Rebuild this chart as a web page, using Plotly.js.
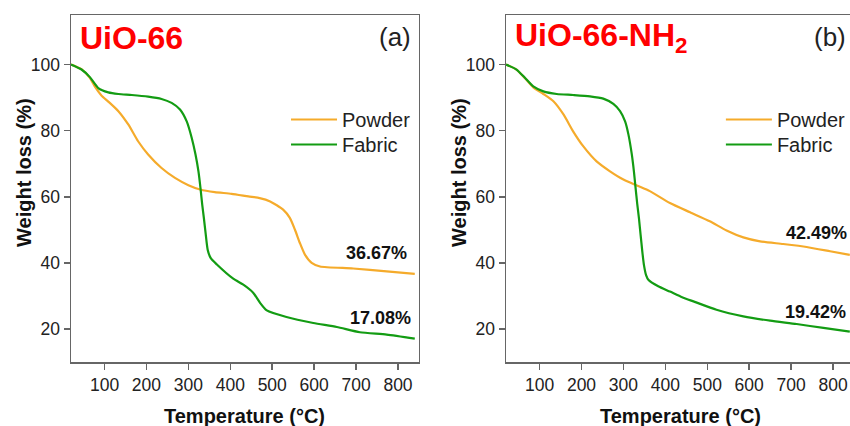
<!DOCTYPE html>
<html>
<head>
<meta charset="utf-8">
<script src="https://cdn.plot.ly/plotly-3.0.1.min.js"></script>
<style>
html, body { margin: 0; padding: 0; overflow: hidden; background: #fff; }
#chart { width: 856px; height: 426px; }
</style>
</head>
<body>
<div id="chart"></div>
<script>
// ---- Data ----
var panelTitles = ['UiO-66', 'UiO-66-NH<sub>2</sub>'];
var panelTags = ['(a)', '(b)'];
var seriesNames = ['Powder', 'Fabric'];
var finalLabelsA = ['36.67%', '17.08%'];
var finalLabelsB = ['42.49%', '19.42%'];
var xTickVals = [100, 200, 300, 400, 500, 600, 700, 800];
var yTickVals = [20, 40, 60, 80, 100];

// Panel (a) UiO-66
var tempA_powder = [20, 45, 65, 77, 93, 109, 133, 157, 180, 204, 236, 268, 300, 328, 363, 403, 443, 470, 495, 526, 542, 554, 566, 578, 594, 614, 693, 773, 840];
var wA_powder    = [100, 98.6, 96.0, 93.3, 90.6, 88.8, 85.9, 81.8, 76.8, 72.8, 68.7, 65.7, 63.5, 62.2, 61.4, 60.9, 60.1, 59.6, 58.6, 56.1, 53.6, 50.1, 46.0, 42.5, 40.0, 38.9, 38.3, 37.4, 36.67];
var tempA_fabric = [20, 45, 65, 85, 109, 133, 165, 204, 236, 260, 280, 296, 308, 317, 324, 329, 333, 337, 341, 346, 353, 368, 407, 431, 455, 471, 487, 534, 598, 654, 709, 773, 840];
var wA_fabric    = [100, 98.5, 96.2, 92.9, 91.6, 91.1, 90.8, 90.3, 89.6, 88.4, 86.4, 82.8, 77.8, 72.8, 67.7, 62.5, 57.6, 53.5, 49.1, 44.0, 41.5, 39.5, 35.2, 33.4, 30.9, 27.9, 25.6, 23.6, 21.8, 20.6, 19.0, 18.3, 17.08];

// Panel (b) UiO-66-NH2
var tempB_powder = [20, 45, 65, 85, 109, 133, 157, 180, 204, 236, 268, 300, 332, 363, 411, 459, 506, 546, 586, 626, 681, 737, 793, 840];
var wB_powder    = [100, 98.5, 95.9, 93.1, 91.1, 88.9, 84.9, 79.8, 75.3, 70.7, 67.7, 65.2, 63.4, 61.7, 58.1, 55.3, 52.6, 49.8, 47.7, 46.5, 45.7, 44.8, 43.5, 42.4];
var tempB_fabric = [20, 45, 65, 85, 109, 141, 180, 220, 252, 276, 292, 304, 312, 320, 325, 329, 333, 337, 341, 345, 349, 354, 360, 383, 411, 440, 470, 522, 586, 650, 713, 777, 840];
var wB_fabric    = [100, 98.5, 96.0, 93.4, 91.9, 91.1, 90.8, 90.4, 89.7, 88.1, 85.9, 82.8, 78.8, 72.8, 67.7, 62.7, 57.8, 53.5, 48.5, 43.5, 39.3, 36.3, 34.8, 32.9, 31.3, 29.6, 28.2, 25.8, 23.8, 22.5, 21.5, 20.3, 19.2];

// ---- Styles ----
var FONT = '"Liberation Sans", Arial, sans-serif';
var ORANGE = '#f5ab2b';
var GREEN = '#139c13';
var AXC = '#666666';

function trace(x, y, name, color, xa, ya, leg) {
  return {
    x: x, y: y, name: name, type: 'scatter', mode: 'lines',
    line: {color: color, width: 2.2, shape: 'spline', smoothing: 0.6},
    xaxis: xa, yaxis: ya, legend: leg, hoverinfo: 'skip'
  };
}

var data = [
  trace(tempA_powder, wA_powder, seriesNames[0], ORANGE, 'x', 'y', 'legend'),
  trace(tempA_fabric, wA_fabric, seriesNames[1], GREEN, 'x', 'y', 'legend2'),
  trace(tempB_powder, wB_powder, seriesNames[0], ORANGE, 'x2', 'y2', 'legend3'),
  trace(tempB_fabric, wB_fabric, seriesNames[1], GREEN, 'x2', 'y2', 'legend4')
];

function xaxis(domain, anchor) {
  return {
    domain: domain, anchor: anchor, range: [20, 850],
    tickvals: xTickVals, ticks: 'outside', ticklen: 6, tickwidth: 1.5, tickcolor: AXC,
    showline: true, mirror: true, linecolor: AXC, linewidth: 1.5,
    showgrid: false, zeroline: false,
    tickfont: {family: FONT, size: 17.5, color: '#222'}
  };
}
function yaxis(anchor) {
  return {
    domain: [0, 1], anchor: anchor, range: [10, 115],
    tickvals: yTickVals, ticks: 'outside', ticklen: 6, tickwidth: 1.5, tickcolor: AXC,
    showline: true, mirror: true, linecolor: AXC, linewidth: 1.5,
    showgrid: false, zeroline: false,
    tickfont: {family: FONT, size: 17.5, color: '#222'}
  };
}

var annotations = [];
[['x', 'y', 0], ['x2', 'y2', 1]].forEach(function (p) {
  var xr = p[0] + ' domain', yr = p[1] + ' domain', i = p[2];
  var finals = i === 0 ? finalLabelsA : finalLabelsB;
  annotations.push(
    {xref: xr, yref: yr, x: 0.02, y: 0.934, xanchor: 'left', yanchor: 'middle', showarrow: false,
     text: '<b>' + panelTitles[i] + '</b>', font: {family: FONT, size: 32, color: '#ff0000'}},
    {xref: xr, yref: yr, x: 0.983, y: 0.936, xanchor: 'right', yanchor: 'middle', showarrow: false,
     text: panelTags[i], font: {family: FONT, size: 26, color: '#222'}},
    {xref: xr, yref: yr, x: 0.5, y: -0.157, xanchor: 'center', yanchor: 'middle', showarrow: false,
     text: '<b>Temperature (°C)</b>', font: {family: FONT, size: 20, color: '#111'}},
    {xref: xr, yref: yr, x: -0.135, y: 0.545, xanchor: 'center', yanchor: 'middle', showarrow: false, textangle: -90,
     text: '<b>Weight loss (%)</b>', font: {family: FONT, size: 20, color: '#111'}},
    {xref: xr, yref: yr, x: i === 0 ? 0.879 : 0.891, y: i === 0 ? 0.314 : 0.372, xanchor: 'center', yanchor: 'middle', showarrow: false,
     text: '<b>' + finals[0] + '</b>', font: {family: FONT, size: 18, color: '#111'}},
    {xref: xr, yref: yr, x: 0.889, y: i === 0 ? 0.127 : 0.144, xanchor: 'center', yanchor: 'middle', showarrow: false,
     text: '<b>' + finals[1] + '</b>', font: {family: FONT, size: 18, color: '#111'}}
  );
});

function legendAt(x, y) {
  return {
    x: x, y: y, yanchor: 'top', xanchor: 'left',
    bgcolor: 'rgba(0,0,0,0)', borderwidth: 0,
    font: {family: FONT, size: 20, color: '#222'},
    itemwidth: 46, tracegroupgap: 0
  };
}

var layout = {
  width: 856, height: 426,
  margin: {l: 71, r: 2, t: 15, b: 64},
  paper_bgcolor: '#ffffff', plot_bgcolor: '#ffffff',
  showlegend: true,
  xaxis: xaxis([0, 0.4444], 'y'),
  yaxis: yaxis('x'),
  xaxis2: xaxis([0.5556, 1], 'y2'),
  yaxis2: yaxis('x2'),
  legend: legendAt(0.2746, 0.755),
  legend2: legendAt(0.2746, 0.683),
  legend3: legendAt(0.830, 0.755),
  legend4: legendAt(0.830, 0.683),
  annotations: annotations
};

Plotly.newPlot('chart', data, layout, {staticPlot: true, displayModeBar: false});
</script>
</body>
</html>
